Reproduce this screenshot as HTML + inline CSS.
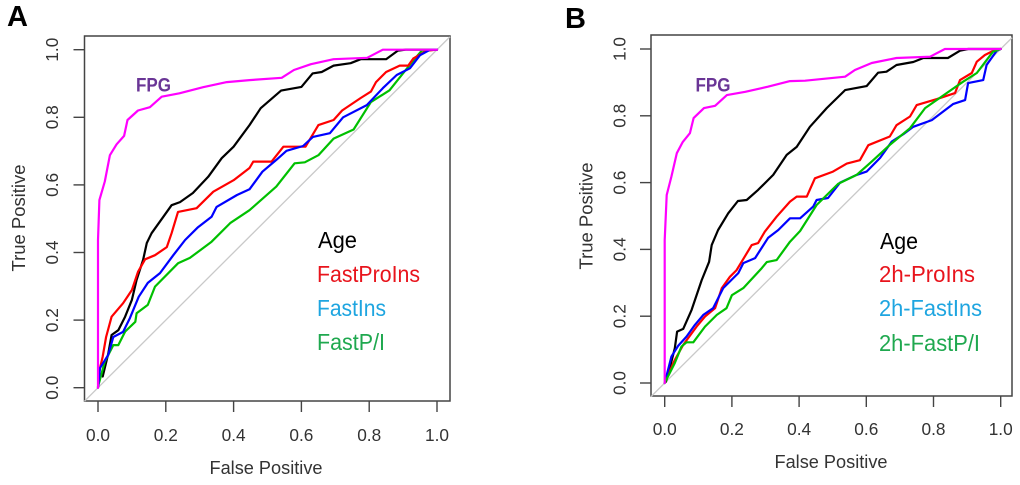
<!DOCTYPE html>
<html>
<head>
<meta charset="utf-8">
<title>ROC curves</title>
<style>
html,body{margin:0;padding:0;background:#fff;width:1020px;height:485px;overflow:hidden}
svg{display:block;filter:blur(0.35px)}
text{font-family:"Liberation Sans",sans-serif}
</style>
</head>
<body>
<svg id="chart" xmlns="http://www.w3.org/2000/svg" width="1020" height="485" viewBox="0 0 1020 485"></svg>
<script>
const tickValues = [0, 0.2, 0.4, 0.6, 0.8, 1];
const tickLabels = ["0.0", "0.2", "0.4", "0.6", "0.8", "1.0"];

const aFpgX = [0,0,0.004,0.02,0.035,0.055,0.077,0.087,0.118,0.153,0.188,0.24,0.31,0.38,0.447,0.542,0.578,0.628,0.695,0.794,0.84,1];
const aFpgY = [0,0.437,0.555,0.61,0.688,0.72,0.745,0.792,0.82,0.83,0.861,0.871,0.889,0.904,0.91,0.917,0.94,0.957,0.972,0.976,1,1];
const aAgeX = [0.014,0.03,0.04,0.06,0.08,0.1,0.114,0.133,0.144,0.158,0.193,0.217,0.242,0.28,0.325,0.365,0.4,0.447,0.48,0.54,0.6,0.633,0.66,0.695,0.745,0.775,0.85,0.884,0.908,1];
const aAgeY = [0.033,0.1,0.156,0.17,0.21,0.26,0.319,0.378,0.428,0.457,0.506,0.54,0.549,0.576,0.624,0.679,0.713,0.777,0.827,0.879,0.89,0.93,0.934,0.953,0.96,0.972,0.972,0.997,1,1];
const aRedX = [0,0.004,0.014,0.024,0.04,0.074,0.1,0.118,0.139,0.168,0.203,0.217,0.236,0.291,0.34,0.4,0.447,0.458,0.512,0.547,0.612,0.65,0.695,0.72,0.775,0.805,0.82,0.85,0.89,0.915,0.93,0.97,1];
const aRedY = [0,0.05,0.092,0.15,0.21,0.25,0.289,0.343,0.38,0.392,0.416,0.457,0.52,0.531,0.58,0.614,0.65,0.669,0.669,0.713,0.713,0.777,0.792,0.82,0.857,0.876,0.904,0.934,0.953,0.953,0.974,0.997,1];
const aBlueX = [0,0.006,0.03,0.045,0.074,0.094,0.12,0.147,0.183,0.222,0.257,0.295,0.335,0.35,0.41,0.447,0.485,0.526,0.556,0.605,0.634,0.684,0.723,0.793,0.84,0.881,0.92,0.95,0.98,1];
const aBlueY = [0,0.058,0.097,0.15,0.165,0.206,0.269,0.31,0.339,0.392,0.437,0.475,0.506,0.535,0.57,0.587,0.639,0.674,0.701,0.715,0.742,0.753,0.8,0.836,0.886,0.925,0.945,0.984,1,1];
const aGreenX = [0,0.02,0.045,0.06,0.08,0.11,0.114,0.147,0.168,0.236,0.271,0.335,0.39,0.447,0.526,0.58,0.61,0.65,0.695,0.754,0.805,0.86,0.93,0.955,1];
const aGreenY = [0.003,0.077,0.126,0.126,0.166,0.195,0.22,0.245,0.299,0.368,0.384,0.432,0.487,0.525,0.595,0.664,0.667,0.688,0.737,0.764,0.845,0.88,0.968,0.997,1];

const bFpgX = [0,0,0.006,0.02,0.036,0.054,0.075,0.086,0.117,0.15,0.185,0.24,0.307,0.373,0.418,0.537,0.566,0.616,0.69,0.79,0.834,1];
const bFpgY = [0,0.428,0.563,0.618,0.688,0.722,0.748,0.793,0.823,0.83,0.862,0.872,0.887,0.904,0.905,0.917,0.937,0.958,0.973,0.977,1,1];
const bAgeX = [0.004,0.016,0.03,0.037,0.055,0.08,0.11,0.132,0.14,0.159,0.189,0.218,0.244,0.278,0.323,0.363,0.393,0.432,0.482,0.537,0.601,0.635,0.66,0.69,0.74,0.77,0.843,0.879,0.903,1];
const bAgeY = [0.004,0.049,0.104,0.154,0.162,0.219,0.308,0.363,0.413,0.458,0.508,0.545,0.548,0.578,0.623,0.683,0.707,0.767,0.823,0.877,0.889,0.929,0.932,0.952,0.961,0.973,0.973,0.995,1,1];
const bRedX = [0,0.03,0.055,0.095,0.12,0.15,0.17,0.194,0.214,0.229,0.259,0.278,0.298,0.333,0.373,0.393,0.423,0.447,0.501,0.542,0.581,0.606,0.67,0.69,0.73,0.75,0.81,0.864,0.879,0.914,0.929,0.953,0.983,1];
const bRedY = [0,0.069,0.114,0.169,0.199,0.224,0.284,0.318,0.338,0.363,0.413,0.419,0.453,0.498,0.543,0.558,0.558,0.613,0.633,0.657,0.667,0.712,0.738,0.772,0.798,0.832,0.85,0.868,0.907,0.928,0.962,0.982,0.997,1];
const bBlueX = [0,0.02,0.04,0.065,0.09,0.115,0.144,0.174,0.219,0.234,0.269,0.308,0.338,0.373,0.403,0.442,0.452,0.486,0.522,0.571,0.601,0.641,0.676,0.71,0.74,0.795,0.858,0.894,0.903,0.948,0.958,0.988,1];
const bBlueY = [0,0.079,0.111,0.139,0.174,0.204,0.224,0.284,0.329,0.359,0.374,0.435,0.458,0.493,0.493,0.528,0.548,0.554,0.6,0.623,0.633,0.674,0.723,0.745,0.767,0.787,0.835,0.847,0.898,0.907,0.952,0.995,1];
const bGreenX = [0,0.03,0.05,0.065,0.085,0.12,0.155,0.184,0.2,0.234,0.289,0.304,0.333,0.373,0.403,0.452,0.516,0.571,0.616,0.67,0.73,0.775,0.839,0.888,0.929,0.977,1];
const bGreenY = [0,0.06,0.109,0.122,0.122,0.169,0.204,0.224,0.263,0.284,0.344,0.362,0.368,0.423,0.455,0.533,0.596,0.623,0.663,0.713,0.763,0.823,0.868,0.902,0.928,0.992,1];

const svgNS = "http://www.w3.org/2000/svg";
const root = document.getElementById("chart");

function make(tag, attrs, parent) {
  const el = document.createElementNS(svgNS, tag);
  for (const k in attrs) el.setAttribute(k, attrs[k]);
  parent.appendChild(el);
  return el;
}

function drawPanel(p) {
  const sx = v => p.x0 + v * p.xs;
  const sy = v => p.y0 - v * p.ys;
  const axisColor = "#444";
  const textColor = "#333";

  const g = make("g", {}, root);
  
  

  const letter = make("text", {x: p.letterX, y: p.letterY, "font-size": 29, "font-weight": "bold", fill: "#000"}, g);
  letter.textContent = p.letter;
  
  

  const box = make("rect", {x: p.left, y: p.top, width: p.right - p.left, height: p.bottom - p.top, fill: "#fff", stroke: axisColor, "stroke-width": 1.5}, g);
  
  

  const lowV = (p.left - p.x0) / p.xs;
  const highV = (p.right - p.x0) / p.xs;
  const diag = make("line", {x1: sx(lowV), y1: sy(lowV), x2: sx(highV), y2: sy(highV), stroke: "#c9c9c9", "stroke-width": 1.3}, g);
  
  

  tickValues.forEach((v, i) => {
    const tx = make("line", {x1: sx(v), x2: sx(v), y1: p.bottom, y2: p.bottom + 11, stroke: axisColor, "stroke-width": 1.4}, g);
    
    
    const ty = make("line", {x1: p.left - 11, x2: p.left, y1: sy(v), y2: sy(v), stroke: axisColor, "stroke-width": 1.4}, g);
    
    
    const lx = make("text", {x: sx(v), y: p.xTickY, "text-anchor": "middle", "font-size": 17.5, fill: textColor, textLength: 24, lengthAdjust: "spacingAndGlyphs"}, g);
    lx.textContent = tickLabels[i];
    
    
    const ly = make("text", {x: 0, y: 0, transform: "translate(" + p.yTickX + "," + sy(v) + ") rotate(-90)", "text-anchor": "middle", "font-size": 17.5, fill: textColor, textLength: 24, lengthAdjust: "spacingAndGlyphs"}, g);
    ly.textContent = tickLabels[i];
    
    
  });

  const xt = make("text", {x: p.xTitleX, y: p.xTitleY, "text-anchor": "middle", "font-size": 18, fill: textColor, textLength: 113, lengthAdjust: "spacingAndGlyphs"}, g);
  xt.textContent = "False Positive";
  
  

  const yt = make("text", {x: 0, y: 0, transform: "translate(" + p.yTitleX + "," + p.yTitleY + ") rotate(-90)", "text-anchor": "middle", "font-size": 18, fill: textColor, textLength: 107, lengthAdjust: "spacingAndGlyphs"}, g);
  yt.textContent = "True Positive";
  
  

  p.series.forEach(s => {
    const pts = s.xs.map((v, i) => sx(v).toFixed(1) + "," + sy(s.ys[i]).toFixed(1)).join(" ");
    const line = make("polyline", {points: pts, fill: "none", stroke: s.color, "stroke-width": s.w, "stroke-linejoin": "round", "stroke-linecap": "round"}, g);
    
    
  });

  const fpg = make("text", {x: p.fpgX, y: p.fpgY, "font-size": 19, "font-weight": "bold", fill: "#6a3596", textLength: 35, lengthAdjust: "spacingAndGlyphs"}, g);
  fpg.textContent = "FPG";
  
  

  p.legend.forEach(l => {
    const t = make("text", {x: l.x, y: l.y, "font-size": 23, fill: l.color, textLength: l.len, lengthAdjust: "spacingAndGlyphs"}, g);
    t.textContent = l.text;
    
    
  });
}

drawPanel({
  id: "a", letter: "A", letterX: 7, letterY: 26,
  x0: 98, xs: 339, y0: 387.7, ys: 338,
  left: 84.5, right: 450, top: 36, bottom: 401,
  xTickY: 441, yTickX: 58, xTitleX: 266, xTitleY: 474, yTitleX: 25, yTitleY: 218,
  fpgX: 136, fpgY: 91.5,
  series: [
    {name: "age", xs: aAgeX, ys: aAgeY, color: "#000", w: 2.2},
    {name: "fastp-i", xs: aGreenX, ys: aGreenY, color: "#00c000", w: 2.2},
    {name: "fastproins", xs: aRedX, ys: aRedY, color: "#ff0000", w: 2.2},
    {name: "fastins", xs: aBlueX, ys: aBlueY, color: "#0000ff", w: 2.2},
    {name: "fpg", xs: aFpgX, ys: aFpgY, color: "#ff00ff", w: 2.2}
  ],
  legend: [
    {text: "Age", x: 318, y: 248, color: "#000", len: 39},
    {text: "FastProIns", x: 317, y: 282, color: "#e8141c", len: 103},
    {text: "FastIns", x: 317, y: 316, color: "#1ea5e0", len: 69},
    {text: "FastP/I", x: 317, y: 350, color: "#1fa84f", len: 68}
  ]
});

drawPanel({
  id: "b", letter: "B", letterX: 565, letterY: 28,
  x0: 664.7, xs: 336, y0: 383, ys: 334,
  left: 651, right: 1012, top: 35, bottom: 396,
  xTickY: 435, yTickX: 625.7, xTitleX: 831, xTitleY: 468, yTitleX: 592.7, yTitleY: 216,
  fpgX: 695.5, fpgY: 91.5,
  series: [
    {name: "age", xs: bAgeX, ys: bAgeY, color: "#000", w: 2.2},
    {name: "2h-proins", xs: bRedX, ys: bRedY, color: "#ff0000", w: 2.2},
    {name: "2h-fastins", xs: bBlueX, ys: bBlueY, color: "#0000ff", w: 2.2},
    {name: "2h-fastp-i", xs: bGreenX, ys: bGreenY, color: "#00c000", w: 2.2},
    {name: "fpg", xs: bFpgX, ys: bFpgY, color: "#ff00ff", w: 2.2}
  ],
  legend: [
    {text: "Age", x: 880, y: 249, color: "#000", len: 38},
    {text: "2h-ProIns", x: 879, y: 282, color: "#e8141c", len: 96},
    {text: "2h-FastIns", x: 879, y: 316, color: "#1ea5e0", len: 103},
    {text: "2h-FastP/I", x: 879, y: 351, color: "#1fa84f", len: 101}
  ]
});
</script>
</body>
</html>
